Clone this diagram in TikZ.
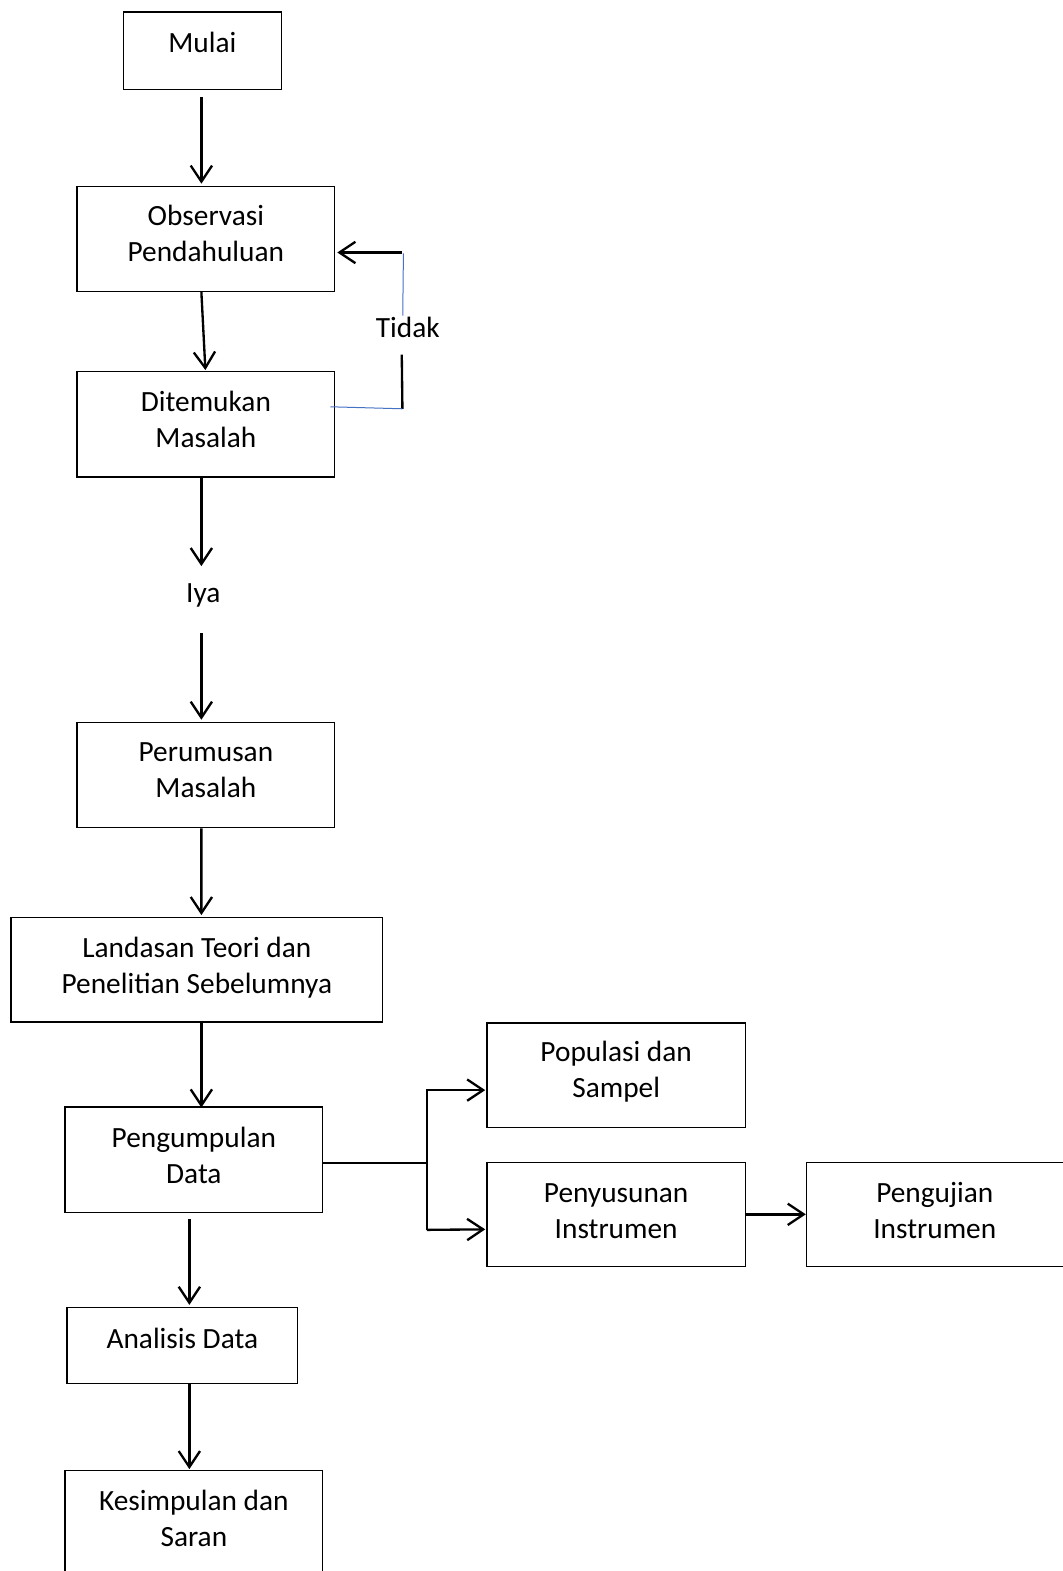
\documentclass[tikz,border=0pt]{standalone}
\usepackage{fontspec}
\setmainfont{Carlito}
\usetikzlibrary{arrows.meta,calc}
\definecolor{tblue}{RGB}{68,114,196}
\begin{document}
\begin{tikzpicture}[x=0.751415pt,y=-0.751435pt,
  box/.style={draw, line width=1pt, inner sep=0pt},
  wide/.style={minimum width=193.1pt, minimum height=78.9pt},
  txt/.style={font=\fontsize{22}{27}\selectfont, align=center, inner sep=0pt},
  arr/.style={line width=1.75pt, -{Straight Barb[length=12pt,width=16pt]}},
  conn/.style={line width=1.75pt},
  blueline/.style={draw=tblue, line width=0.75pt}]
\useasboundingbox (0,0) rectangle (1060,1568);

% boxes
\node[box, minimum width=118.7pt, minimum height=57.9pt,
  label={[txt,yshift=6pt]center:Mulai}] (mulai) at (202,50.5) {};
\node[box, wide, label={[txt,yshift=3.9pt]center:Observasi\\Pendahuluan}] (obs) at (205.5,238.5) {};
\node[box, wide, label={[txt,yshift=3.3pt]center:Ditemukan\\Masalah}] (dit) at (205.5,423.5) {};
\node[txt] (iya) at (203,594.5) {Iya};
\node[txt] (tidak) at (407,327) {Tidak};
\node[box, wide, label={[txt,yshift=3.3pt]center:Perumusan\\Masalah}] (per) at (205.5,773.5) {};
\node[box, minimum width=278.8pt, minimum height=78.2pt,
  label={[txt,yshift=1.9pt]center:Landasan Teori dan\\Penelitian Sebelumnya}] (land) at (196.5,968) {};
\node[box, wide, label={[txt,yshift=3.3pt]center:Pengumpulan\\Data}] (peng) at (193.5,1157.5) {};
\node[box, minimum width=172.8pt, minimum height=57.1pt,
  label={[txt,yshift=5.6pt]center:Analisis Data}] (ana) at (182,1343) {};
\node[box, wide, label={[txt,yshift=3.8pt]center:Kesimpulan dan\\Saran}] (kes) at (193.5,1520.5) {};
\node[box, minimum width=193.9pt, minimum height=78.2pt,
  label={[txt,yshift=2.2pt]center:Populasi dan\\Sampel}] (pop) at (615,1073) {};
\node[box, minimum width=193.9pt, minimum height=78.2pt,
  label={[txt,yshift=2.6pt]center:Penyusunan\\Instrumen}] (pen) at (615,1212) {};
\node[box, minimum width=193.9pt, minimum height=78.2pt,
  label={[txt,yshift=2.8pt,xshift=-0.75pt]center:Pengujian\\Instrumen}] (uji) at (934,1212) {};

% main flow
\draw[arr] ($(mulai.south)+(-1,7)$) -- ($(obs.north)+(-4.5,-2)$);
\draw[arr] ($(obs.south)+(-4.5,0)$) -- ($(dit.north)+(-0.5,-1)$);
\draw[arr] ($(dit.south)+(-4.5,0)$) -- ($(iya.center)+(-2,-29.5)$);
\draw[arr] ($(iya.center)+(-2,37.5)$) -- ($(per.north)+(-4.5,-2)$);
\draw[arr] ($(per.south)+(-4.5,0)$) -- ($(land.north)+(4.5,-2)$);
\draw[arr] ($(land.south)+(4.5,0)$) -- ($(peng.north)+(7.5,1)$);
\draw[arr] ($(peng.south)+(-4.5,6)$) -- ($(ana.north)+(7,-2)$);
\draw[arr] ($(ana.south)+(7,0)$) -- ($(kes.north)+(-4.5,-1)$);

% branch to the right
\draw[conn] ($(peng.east)+(0,3.5)$) -- ($(peng.east)+(103.5,3.5)$) coordinate (j);
\draw[conn] ($(j|-pop.west)+(0,14.5)$) coordinate (ja) -- ($(j|-pen.west)+(0,15.5)$) coordinate (jb);
\draw[arr] ($(ja)+(-0.75,0.5)$) -- ($(pop.west)+(-1,15)$);
\draw[arr] (jb) -- ($(pen.west)+(-1,15)$);
\draw[arr] (pen.east) -- (uji.west);

% "Tidak" loop
\coordinate (ta) at ($(obs.east)+(67,13.5)$);
\draw[arr] (ta) -- ($(obs.east)+(2,13.5)$);
\draw[blueline] ($(ta)+(1,1)$) -- ($(tidak.center)+(-5,-12)$);
\coordinate (tb) at ($(dit.east)+(67,-15.5)$);
\draw[conn] ($(tidak.center)+(-6,27)$) -- (tb);
\draw[blueline] (tb) -- ($(dit.east)+(-5,-17.5)$);
\end{tikzpicture}
\end{document}
